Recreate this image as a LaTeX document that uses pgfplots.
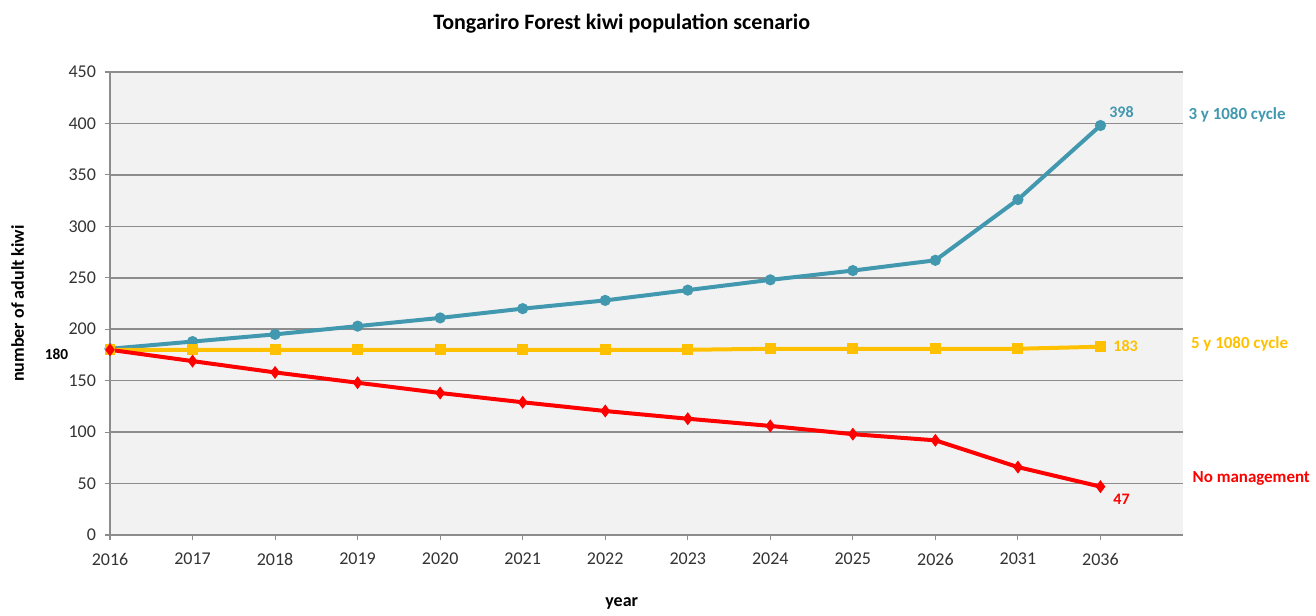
\documentclass[border=0pt]{standalone}
\usepackage{pgfplots}
\pgfplotsset{compat=1.18}
\usepackage{fontspec}
\setmainfont{Carlito}
\definecolor{kblue}{HTML}{4198AF}
\definecolor{kyellow}{HTML}{FFC000}
\definecolor{kred}{HTML}{FF0000}
\definecolor{kgrid}{HTML}{8C8C8C}
\definecolor{kback}{HTML}{F2F2F2}
\begin{document}
\begin{tikzpicture}
\begin{axis}[
  name=ax,
  at={(0,0)}, anchor=south west,
  scale only axis,
  width=804.75pt, height=347.25pt,
  xmin=0, xmax=13, ymin=0, ymax=450,
  xtick={0,...,12},
  xticklabels={2016,2017,2018,2019,2020,2021,2022,2023,2024,2025,2026,2031,2036},
  ytick={0,50,...,450},
  axis lines*=left,
  axis line style={-, kgrid, line width=1pt},
  tick align=outside,
  major tick length=4pt,
  tick style={kgrid, line width=0.8pt},
  ymajorgrids,
  grid style={kgrid, line width=1.2pt},
  axis background/.style={fill=kback},
  ticklabel style={font=\fontsize{13.5}{15}\selectfont, text=black!80},
  /pgf/number format/assume math mode=true,
  yticklabel style={xshift=-3pt},
  xticklabel style={yshift=-6pt},
  clip=false,
  every axis plot/.append style={line width=3pt},
]
\addplot[kblue, mark=*, mark size=2.6pt] coordinates {
(0,181) (1,188) (2,195) (3,203) (4,211) (5,220) (6,228) (7,238) (8,248) (9,257) (10,267) (11,326) (12,398)
};
\addplot[kyellow, mark=square*, mark size=2.6pt] coordinates {
(0,180) (1,180) (2,180) (3,180) (4,180) (5,180) (6,180) (7,180) (8,181) (9,181) (10,181) (11,181) (12,183)
};
\addplot[kred, mark=diamond*, mark size=2.4pt] coordinates {
(0,180) (1,169) (2,158) (3,148) (4,138) (5,129) (6,120.5) (7,113) (8,106) (9,98) (10,92) (11,66) (12,47)
};
\node[kblue, font=\bfseries\fontsize{12}{14}\selectfont, anchor=south west] at (axis cs:12.05,401) {398};
\node[kyellow, font=\bfseries\fontsize{12}{14}\selectfont, anchor=west] at (axis cs:12.1,184) {183};
\node[kred, font=\bfseries\fontsize{12}{14}\selectfont, anchor=north west] at (axis cs:12.1,44) {47};
\node[black, font=\bfseries\fontsize{11.5}{13}\selectfont, anchor=east] at (axis cs:-0.45,176) {180};
\node[kblue, font=\bfseries\fontsize{12.7}{14}\selectfont, anchor=west] at (axis cs:13.01,408) {3 y 1080 cycle};
\node[kyellow, font=\bfseries\fontsize{12.7}{14}\selectfont, anchor=west] at (axis cs:13.04,186) {5 y 1080 cycle};
\node[kred, font=\bfseries\fontsize{12.7}{14}\selectfont, anchor=west] at (axis cs:13.06,55) {No management};
\node[black, font=\bfseries\fontsize{16.5}{18}\selectfont] at (axis cs:6.2,497) {Tongariro Forest kiwi population scenario};
\node[black, font=\bfseries\fontsize{13.5}{15}\selectfont] at (axis cs:6.2,-67) {year};
\node[black, font=\bfseries\fontsize{13.5}{15}\selectfont, rotate=90] at (axis cs:-1.12,225) {number of adult kiwi};
\end{axis}
\path[use as bounding box] ([shift={(-82.5pt,-60.75pt)}]ax.south west) rectangle ([shift={(904.5pt,401.25pt)}]ax.south west);
\end{tikzpicture}
\end{document}
